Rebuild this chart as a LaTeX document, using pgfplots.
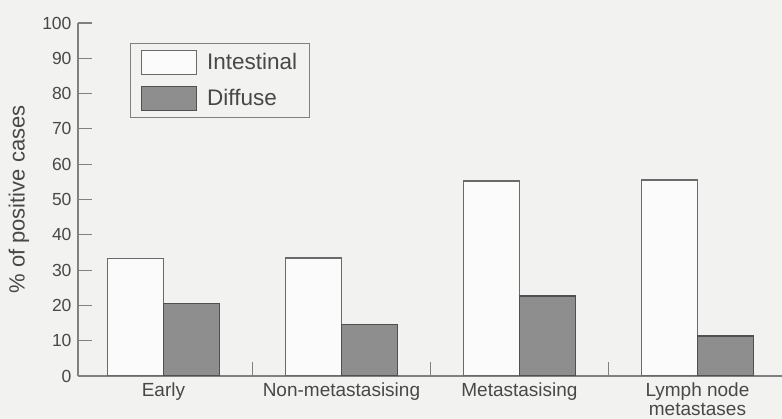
\documentclass[border=0pt]{standalone}
\usepackage{fontspec}
\setmainfont{Liberation Sans}
\usepackage{pgfplots}
\pgfplotsset{compat=1.18}

\definecolor{bgc}{HTML}{F2F2F0}
\definecolor{axc}{HTML}{808080}
\definecolor{txc}{HTML}{484848}
\definecolor{difffill}{HTML}{8E8E8E}
\definecolor{diffedge}{HTML}{505050}
\definecolor{intfill}{HTML}{FBFBFB}
\definecolor{intedge}{HTML}{6A6A6A}

\begin{document}
\begin{tikzpicture}
\path[use as bounding box] (-78pt,-43pt) rectangle (704pt,376pt);
\fill[bgc] (-78pt,-43pt) rectangle (704pt,376pt);
\begin{axis}[
  width=704pt, height=353pt, scale only axis,
  xmin=-0.48, xmax=3.475, ymin=0, ymax=100,
  axis x line*=bottom, axis y line*=left,
  axis line style={draw=axc, line width=1.1pt},
  every tick/.style={draw=axc, line width=1.1pt},
  tick align=inside, major tick length=14pt,
  /pgf/number format/assume math mode=true,
  ytick={0,10,...,100},
  xtick={0.5,1.5,2.5}, xticklabels={},
  extra x ticks={0,1,2,3},
  extra x tick labels={Early,Non-metastasising,Metastasising,{Lymph node\\metastases}},
  extra x tick style={tick style={draw=none}},
  xticklabel style={align=center, font=\fontsize{19}{19}\selectfont, text=txc, yshift=-3pt},
  yticklabel style={font=\fontsize{17.5}{20}\selectfont, text=txc, xshift=-3pt},
  ylabel={\% of positive cases},
  ylabel style={at={(axis description cs:-0.0838,0.5)}, anchor=center, font=\fontsize{22}{26}\selectfont, text=txc},
  legend style={at={(axis description cs:0.0739,0.943)}, anchor=north west,
    draw=axc, line width=1pt, fill=bgc, font=\fontsize{22.5}{26}\selectfont, text=txc,
    row sep=11pt, inner xsep=10pt, inner ysep=6pt},
  legend cell align=left,
  legend image code/.code={\draw[#1] (0pt,-12pt) rectangle (55pt,12pt); \path[draw=none,fill=none] (55pt,0pt) -- (64pt,0pt);},
]
\addplot[ybar, bar width=0.316, bar shift=-0.158, fill=intfill, draw=intedge, line width=1.3pt]
  coordinates {(0,33.3) (1,33.4) (2,55.2) (3,55.5)};
\addlegendentry{Intestinal}
\addplot[ybar, bar width=0.316, bar shift=0.158, fill=difffill, draw=diffedge, line width=1.3pt]
  coordinates {(0,20.6) (1,14.5) (2,22.7) (3,11.3)};
\addlegendentry{Diffuse}
\end{axis}
\end{tikzpicture}
\end{document}
